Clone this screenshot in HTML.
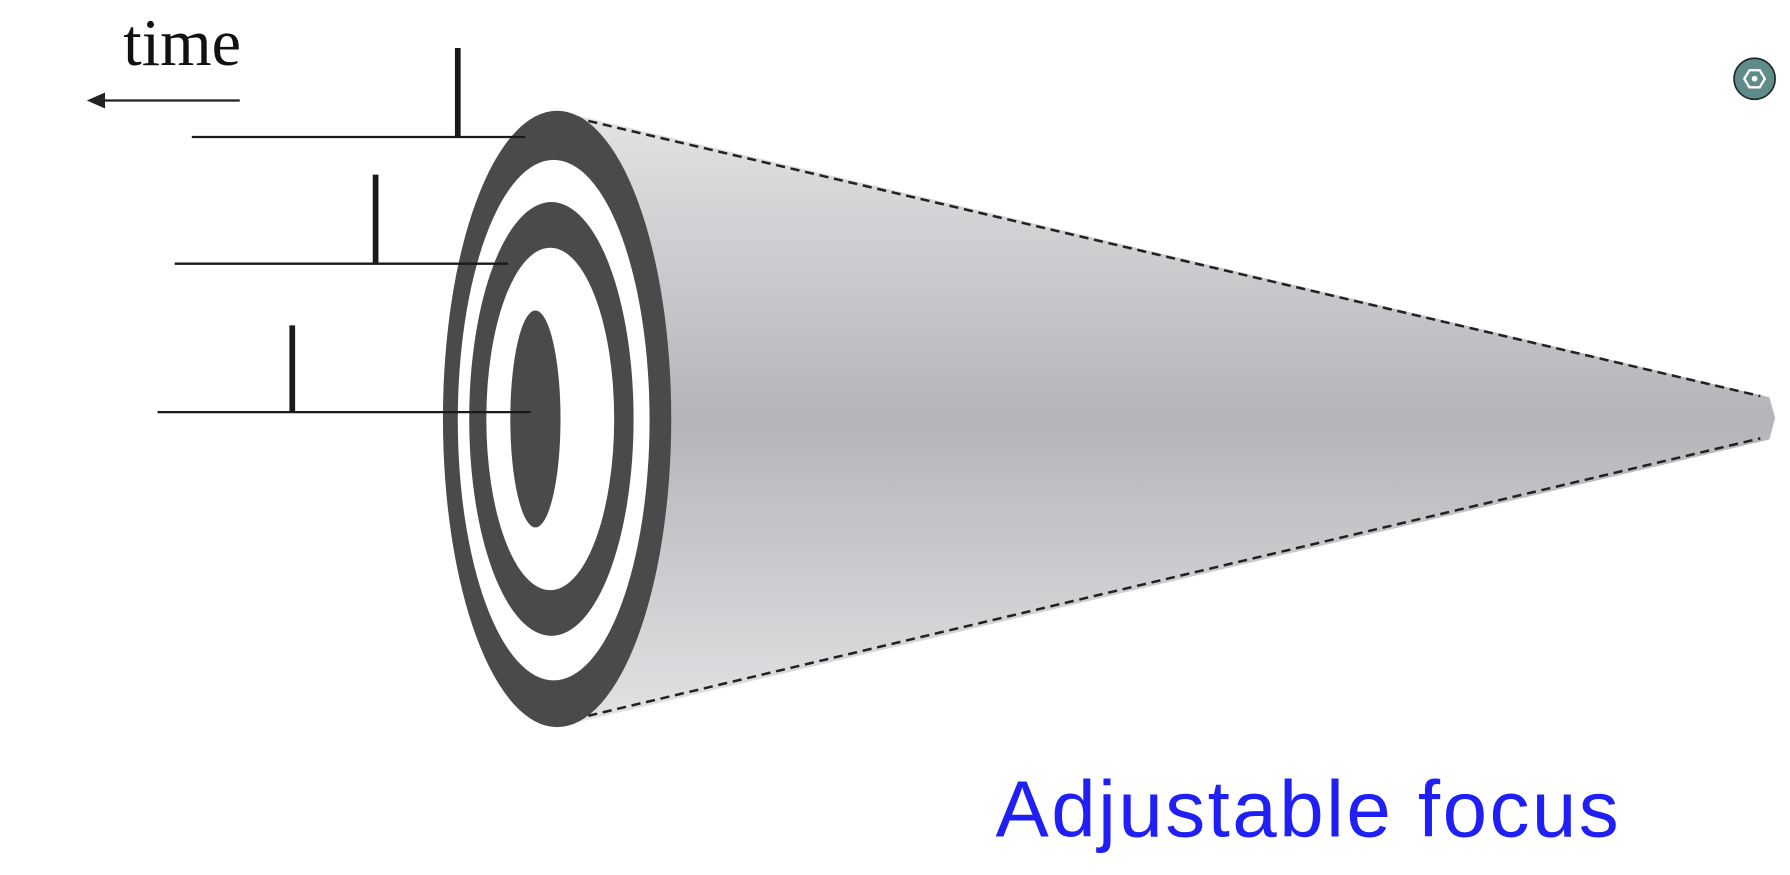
<!DOCTYPE html>
<html><head><meta charset="utf-8"><style>
html,body{margin:0;padding:0;background:#fff;}
svg{display:block;}
</style></head><body>
<svg width="1790" height="875" viewBox="0 0 1568 766.5">
<defs>
<linearGradient id="cone" x1="0" y1="0" x2="0" y2="1">
<stop offset="0" stop-color="#e2e3e5"/><stop offset="0.5" stop-color="#b3b5b8"/><stop offset="1" stop-color="#e2e3e5"/>
</linearGradient>
</defs>
<text x="108" y="57" font-family="Liberation Serif, serif" font-size="58" fill="#111">time</text>
<g>
<line x1="88" y1="88" x2="210" y2="88" stroke="#222" stroke-width="2"/>
<polygon points="76,88 92,81 92,95" fill="#222"/>
</g>
<polygon points="488,97 1550,348 1555,366 1550,385 488,637" fill="url(#cone)"/>
<line x1="490" y1="100" x2="1542" y2="347" stroke="#222" stroke-width="2.2" stroke-dasharray="8,5"/>
<line x1="490" y1="633" x2="1542" y2="384" stroke="#222" stroke-width="2.2" stroke-dasharray="8,5"/>
<g>
<ellipse cx="488" cy="367" rx="100" ry="270" fill="#4a4a4d"/>
<ellipse cx="485" cy="368" rx="84" ry="228" fill="#fff"/>
<ellipse cx="483" cy="367" rx="72" ry="190" fill="#4a4a4d"/>
<ellipse cx="482" cy="367" rx="56" ry="150" fill="#fff"/>
<ellipse cx="469" cy="367" rx="22" ry="95" fill="#4a4a4d"/>
</g>
<g stroke="#1a1a1a">
<line x1="168" y1="120" x2="460" y2="120" stroke-width="2"/>
<line x1="401" y1="42" x2="401" y2="120" stroke-width="5"/>
<line x1="153" y1="231" x2="445" y2="231" stroke-width="2"/>
<line x1="329" y1="153" x2="329" y2="231" stroke-width="5"/>
<line x1="138" y1="361" x2="465" y2="361" stroke-width="2"/>
<line x1="256" y1="285" x2="256" y2="361" stroke-width="5"/>
</g>
<g>
<circle cx="1537" cy="69" r="18" fill="#5f8b8a" stroke="#1f2b2b" stroke-width="1.5"/>
<polygon points="1528,69 1532.5,61.5 1541.5,61.5 1546,69 1541.5,76.5 1532.5,76.5" fill="none" stroke="#fff" stroke-width="2"/>
<circle cx="1537" cy="69" r="2.5" fill="#fff"/>
</g>
<text x="872" y="733" font-family="Liberation Sans, sans-serif" font-size="70" fill="#2020f5" textLength="546">Adjustable focus</text>
</svg>
</body></html>
